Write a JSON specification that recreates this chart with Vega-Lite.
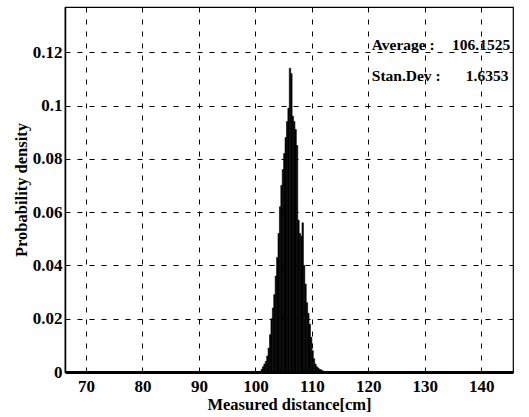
{
  "$schema": "https://vega.github.io/schema/vega-lite/v6.json",
  "width": 448,
  "height": 365,
  "autosize": "none",
  "padding": {"left": 65, "top": 7, "right": 16, "bottom": 45},
  "background": "white",
  "config": {
    "view": {"stroke": "black", "strokeWidth": 1.2},
    "font": "Liberation Serif",
    "text": {"font": "Liberation Serif"}
  },
  "layer": [
    {
      "data": {"values": [
        {"x": 101.00, "x2": 101.25, "y": 0.001},
        {"x": 101.25, "x2": 101.50, "y": 0.002},
        {"x": 101.50, "x2": 101.75, "y": 0.003},
        {"x": 101.75, "x2": 102.00, "y": 0.004},
        {"x": 102.00, "x2": 102.25, "y": 0.006},
        {"x": 102.25, "x2": 102.50, "y": 0.009},
        {"x": 102.50, "x2": 102.75, "y": 0.014},
        {"x": 102.75, "x2": 103.00, "y": 0.020},
        {"x": 103.00, "x2": 103.25, "y": 0.024},
        {"x": 103.25, "x2": 103.50, "y": 0.029},
        {"x": 103.50, "x2": 103.75, "y": 0.036},
        {"x": 103.75, "x2": 104.00, "y": 0.043},
        {"x": 104.00, "x2": 104.25, "y": 0.052},
        {"x": 104.25, "x2": 104.50, "y": 0.062},
        {"x": 104.50, "x2": 104.75, "y": 0.070},
        {"x": 104.75, "x2": 105.00, "y": 0.076},
        {"x": 105.00, "x2": 105.25, "y": 0.082},
        {"x": 105.25, "x2": 105.50, "y": 0.088},
        {"x": 105.50, "x2": 105.75, "y": 0.094},
        {"x": 105.75, "x2": 106.00, "y": 0.099},
        {"x": 106.00, "x2": 106.25, "y": 0.114},
        {"x": 106.25, "x2": 106.50, "y": 0.112},
        {"x": 106.50, "x2": 106.75, "y": 0.096},
        {"x": 106.75, "x2": 107.00, "y": 0.094},
        {"x": 107.00, "x2": 107.25, "y": 0.091},
        {"x": 107.25, "x2": 107.50, "y": 0.085},
        {"x": 107.50, "x2": 107.75, "y": 0.057},
        {"x": 107.75, "x2": 108.00, "y": 0.052},
        {"x": 108.00, "x2": 108.25, "y": 0.051},
        {"x": 108.25, "x2": 108.50, "y": 0.056},
        {"x": 108.50, "x2": 108.75, "y": 0.040},
        {"x": 108.75, "x2": 109.00, "y": 0.033},
        {"x": 109.00, "x2": 109.25, "y": 0.026},
        {"x": 109.25, "x2": 109.50, "y": 0.022},
        {"x": 109.50, "x2": 109.75, "y": 0.018},
        {"x": 109.75, "x2": 110.00, "y": 0.013},
        {"x": 110.00, "x2": 110.25, "y": 0.008},
        {"x": 110.25, "x2": 110.50, "y": 0.005},
        {"x": 110.50, "x2": 110.75, "y": 0.003},
        {"x": 110.75, "x2": 111.00, "y": 0.002},
        {"x": 111.00, "x2": 111.25, "y": 0.0015},
        {"x": 111.25, "x2": 111.50, "y": 0.001},
        {"x": 111.50, "x2": 111.75, "y": 0.0008},
        {"x": 111.75, "x2": 112.00, "y": 0.0005}
      ]},
      "mark": {"type": "rect", "color": "black", "stroke": "black", "strokeWidth": 0.6},
      "encoding": {
        "x": {
          "field": "x", "type": "quantitative",
          "scale": {"domain": [66.3, 145.6], "nice": false, "zero": false},
          "axis": {
            "title": "Measured distance[cm]",
            "values": [70, 80, 90, 100, 110, 120, 130, 140],
            "grid": true, "gridDash": [5, 7], "gridColor": "black", "gridOpacity": 1, "gridWidth": 1,
            "ticks": false,
            "labelFont": "Liberation Serif", "labelFontWeight": "bold", "labelFontSize": 17, "labelColor": "black",
            "labelPadding": 6,
            "titleFont": "Liberation Serif", "titleFontWeight": "bold", "titleFontSize": 16.5, "titleColor": "black",
            "titlePadding": 2,
            "domainColor": "black", "domainWidth": 3
          }
        },
        "x2": {"field": "x2"},
        "y": {
          "field": "y", "type": "quantitative",
          "scale": {"domain": [0, 0.137], "nice": false},
          "axis": {
            "title": "Probability density",
            "values": [0, 0.02, 0.04, 0.06, 0.08, 0.1, 0.12],
            "format": ".2~f",
            "grid": true, "gridDash": [5, 7], "gridColor": "black", "gridOpacity": 1, "gridWidth": 1,
            "ticks": false,
            "labelFont": "Liberation Serif", "labelFontWeight": "bold", "labelFontSize": 17, "labelColor": "black",
            "labelPadding": 3,
            "titleFont": "Liberation Serif", "titleFontWeight": "bold", "titleFontSize": 16.5, "titleColor": "black",
            "titlePadding": 3,
            "domainColor": "black", "domainWidth": 1.5
          }
        },
        "y2": {"datum": 0}
      }
    },
    {
      "data": {"values": [
        {"x": 120.6, "y": 0.121, "t": "Average :"},
        {"x": 120.6, "y": 0.1093, "t": "Stan.Dev :"}
      ]},
      "mark": {"type": "text", "align": "left", "baseline": "alphabetic", "font": "Liberation Serif", "fontWeight": "bold", "fontSize": 15.5, "color": "black"},
      "encoding": {
        "x": {"field": "x", "type": "quantitative"},
        "y": {"field": "y", "type": "quantitative"},
        "text": {"field": "t"}
      }
    },
    {
      "data": {"values": [
        {"x": 145.1, "y": 0.121, "t": "106.1525"},
        {"x": 144.8, "y": 0.1093, "t": "1.6353"}
      ]},
      "mark": {"type": "text", "align": "right", "baseline": "alphabetic", "font": "Liberation Serif", "fontWeight": "bold", "fontSize": 15.5, "color": "black"},
      "encoding": {
        "x": {"field": "x", "type": "quantitative"},
        "y": {"field": "y", "type": "quantitative"},
        "text": {"field": "t"}
      }
    }
  ]
}
